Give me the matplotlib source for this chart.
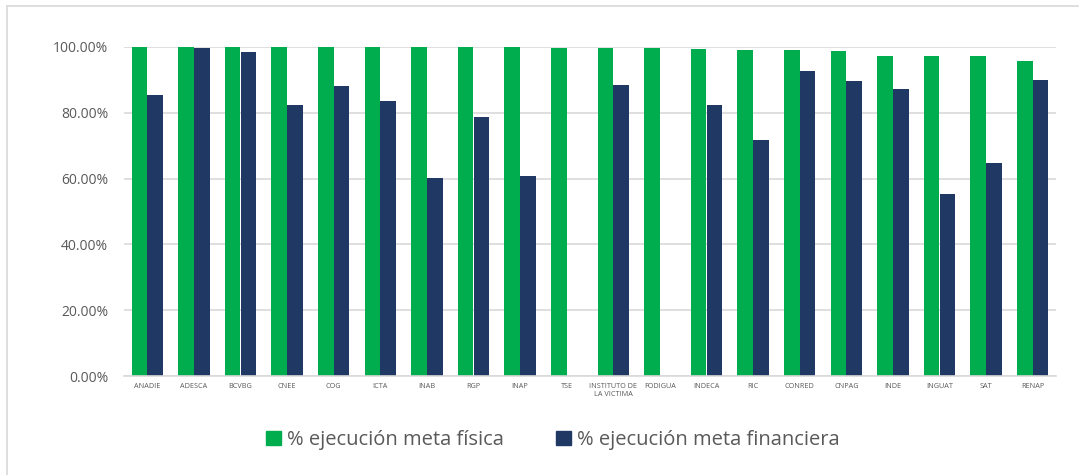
import matplotlib
matplotlib.use("Agg")
import matplotlib.pyplot as plt
import numpy as np
from matplotlib.ticker import FuncFormatter
from matplotlib.lines import Line2D

categories = ["ANADIE", "ADESCA", "BCVBG", "CNEE", "COG", "ICTA", "INAB", "RGP",
              "INAP", "TSE", "INSTITUTO DE\nLA VICTIMA", "FODIGUA", "INDECA", "RIC",
              "CONRED", "CNPAG", "INDE", "INGUAT", "SAT", "RENAP"]
fisica = [100.0, 100.0, 100.0, 100.0, 100.0, 100.0, 100.0, 100.0, 100.0, 99.8,
          99.8, 99.8, 99.3, 99.0, 99.0, 98.8, 97.4, 97.3, 97.3, 95.7]
financiera = [85.4, 99.6, 98.4, 82.3, 88.1, 83.5, 60.3, 78.6, 60.8, 0.0,
              88.6, 0.0, 82.3, 71.6, 92.6, 89.8, 87.2, 55.4, 64.6, 89.9]
series_labels = ["% ejecución meta física", "% ejecución meta financiera"]
yticks = [0, 20, 40, 60, 80, 100]

green = "#00AD4E"
navy = "#203864"

W, H = 1079, 475
fig = plt.figure(figsize=(W / 100, H / 100), dpi=100)
fig.patch.set_facecolor("white")
ax = fig.add_axes([124 / W, 1 - 376 / H, (1056 - 124) / W, (376 - 47) / H])

x = np.arange(len(categories))
bw = 0.335
ax.bar(x - bw / 2, fisica, bw, color=green, label=series_labels[0], zorder=3)
ax.bar(x + bw / 2, financiera, bw, color=navy, label=series_labels[1], zorder=3)

ax.set_xlim(-0.5, len(categories) - 0.5)
ax.set_ylim(0, 100)
ax.set_yticks(yticks)
ax.yaxis.set_major_formatter(FuncFormatter(lambda v, p: f"{v:.2f}%"))
ax.grid(axis="y", color="#D9D9D9", linewidth=1.2, zorder=0)
ax.set_axisbelow(True)
for s in ["top", "right", "left"]:
    ax.spines[s].set_visible(False)
ax.spines["bottom"].set_color("#D9D9D9")
ax.spines["bottom"].set_linewidth(1.2)
ax.spines["bottom"].set_zorder(4)
ax.tick_params(axis="y", length=0, pad=11.5, labelsize=10, labelcolor="#595959")
ax.tick_params(axis="x", length=0, pad=5, labelcolor="#595959")
ax.set_xticks(x)
ax.set_xticklabels(categories, fontsize=5.2, linespacing=1.3)
for lab in ax.get_yticklabels():
    lab.set_fontfamily("Open Sans")
for lab in ax.get_xticklabels():
    lab.set_fontfamily("Open Sans")

handles = [plt.Rectangle((0, 0), 1, 1, color=green), plt.Rectangle((0, 0), 1, 1, color=navy)]
leg = fig.legend(handles, series_labels, loc="center", bbox_to_anchor=(553 / W, 1 - 440 / H),
                 ncol=2, frameon=False, handlelength=0.75, handleheight=0.75,
                 handletextpad=0.3, columnspacing=2.6,
                 prop={"family": "Open Sans", "size": 14.5})
for t in leg.get_texts():
    t.set_color("#595959")

# chart border (left and top visible)
fig.add_artist(Line2D([7 / W, 7 / W], [0, 1 - 6 / H], transform=fig.transFigure, color="#D9D9D9", linewidth=1.2))
fig.add_artist(Line2D([7 / W, 1], [1 - 6 / H, 1 - 6 / H], transform=fig.transFigure, color="#D9D9D9", linewidth=1.2))

fig.savefig("out.png", dpi=100)
